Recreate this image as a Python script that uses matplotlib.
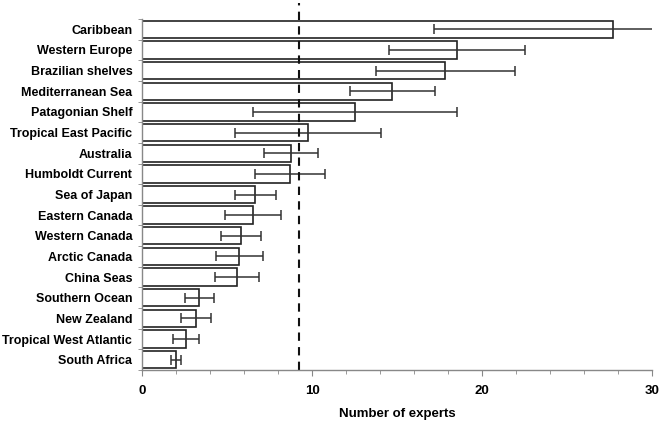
import matplotlib
matplotlib.use("Agg")
import matplotlib.pyplot as plt
from matplotlib.ticker import MultipleLocator, FixedLocator
import numpy as np

plt.rcParams["font.family"] = ["Liberation Sans", "DejaVu Sans"]

regions = ["Caribbean", "Western Europe", "Brazilian shelves", "Mediterranean Sea",
           "Patagonian Shelf", "Tropical East Pacific", "Australia", "Humboldt Current",
           "Sea of Japan", "Eastern Canada", "Western Canada", "Arctic Canada",
           "China Seas", "Southern Ocean", "New Zealand", "Tropical West Atlantic",
           "South Africa"]
experts = [27.7, 18.5, 17.85, 14.72, 12.53, 9.78, 8.78, 8.72, 6.67, 6.51, 5.8,
           5.73, 5.61, 3.37, 3.19, 2.61, 2.0]
errors = [10.5, 4.0, 4.07, 2.5, 6.0, 4.3, 1.6, 2.07, 1.2, 1.65, 1.18, 1.38,
          1.3, 0.87, 0.88, 0.76, 0.32]
mean_line = 9.24

fig = plt.figure(figsize=(6.62, 4.25), dpi=100)
ax = fig.add_axes([0.2145, 0.1294, 0.7705, 0.8259])

ys = np.arange(len(regions))
ax.barh(ys, experts, height=0.84, color="white", edgecolor="#222222", linewidth=1.2)
ax.errorbar(experts, ys, xerr=errors, fmt="none", ecolor="#333333",
            elinewidth=1.1, capsize=3.5, capthick=1.1)

# dashed reference line, runs a little above the plot area
ax.plot([mean_line, mean_line], [0, 1.045], color="#111111", linestyle=(0, (4, 3)),
        linewidth=1.5, transform=ax.get_xaxis_transform(), clip_on=False)

ax.set_xlim(0, 30)
ax.set_ylim(len(regions) - 0.5, -0.5)
ax.set_yticks(ys)
ax.set_yticklabels(regions, fontsize=9, fontweight="bold")
ax.tick_params(axis="y", length=0, pad=7)
ax.yaxis.set_minor_locator(FixedLocator(np.arange(-0.5, len(regions), 1.0)))
ax.tick_params(axis="y", which="minor", length=3, color="#888888")

ax.xaxis.set_major_locator(MultipleLocator(10))
ax.xaxis.set_minor_locator(MultipleLocator(2))
ax.tick_params(axis="x", which="major", length=4, color="#888888", labelsize=9.5, pad=7)
ax.tick_params(axis="x", which="minor", length=3, color="#888888")
for lbl in ax.get_xticklabels():
    lbl.set_fontweight("bold")
ax.set_xlabel("Number of experts", fontsize=9.5, fontweight="bold", labelpad=8)

for s in ["top", "right"]:
    ax.spines[s].set_visible(False)
for s in ["left", "bottom"]:
    ax.spines[s].set_color("#888888")
    ax.spines[s].set_linewidth(1.0)

fig.savefig("out.png", dpi=100)
